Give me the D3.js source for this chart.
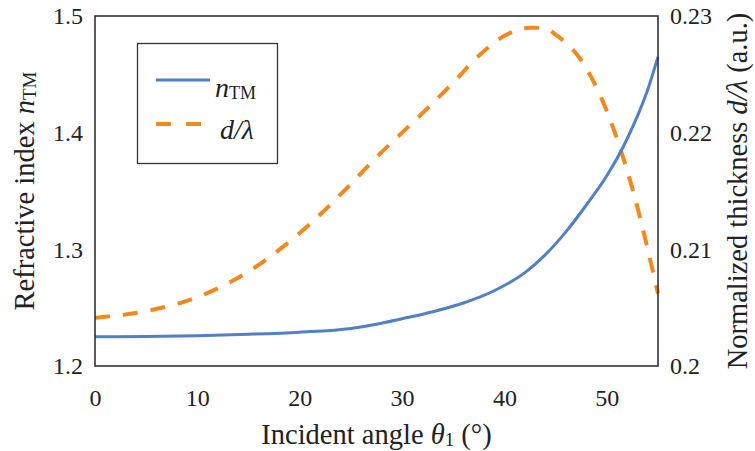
<!DOCTYPE html>
<html>
<head>
<meta charset="utf-8">
<script src="https://cdn.jsdelivr.net/npm/d3@7"></script>
<style>
  html, body { margin: 0; padding: 0; background: #fff; }
  svg { display: block; }
  svg text { font-family: "Liberation Serif", "Times New Roman", Times, "DejaVu Serif", serif !important; fill: #222; }
</style>
</head>
<body>
<svg id="chart" width="755" height="451"></svg>
<script>
// Incident angle (degrees) for the refractive index curve
const anglesN = [0, 5, 10, 15, 20, 25, 27.5, 30, 33, 36, 39, 42, 44, 46, 48, 50, 52, 54, 55];
// Refractive index n_TM (left axis)
const nTM = [1.2250, 1.2253, 1.2260, 1.2272, 1.2290, 1.2322, 1.2358, 1.2405, 1.2465, 1.2540, 1.2645, 1.2800, 1.2955, 1.3150, 1.3380, 1.3630, 1.3950, 1.4370, 1.4650];

// Incident angle (degrees) for the thickness curve
const anglesD = [0, 5, 10, 15, 20, 25, 27.5, 30, 32.5, 35, 37.5, 40, 42.5, 44, 45, 47.5, 50, 52.5, 55];
// Normalized thickness d/lambda (right axis)
const dLambda = [0.20414, 0.20470, 0.20590, 0.20810, 0.21140, 0.21560, 0.21790, 0.22000, 0.22210, 0.22430, 0.22660, 0.22830, 0.22900, 0.22895, 0.22840, 0.22620, 0.22185, 0.21520, 0.20620];

const xTicks = [0, 10, 20, 30, 40, 50];
const yLeftTicks = [1.2, 1.3, 1.4, 1.5];
const yRightTicks = [0.2, 0.21, 0.22, 0.23];

const FONT = "'Liberation Serif', 'Times New Roman', Times, serif";
const svg = d3.select("#chart");
const plot = { left: 95, right: 658, top: 16, bottom: 366 };

const x = d3.scaleLinear().domain([0, 55]).range([plot.left, plot.right]);
const yL = d3.scaleLinear().domain([1.2, 1.5]).range([plot.bottom, plot.top]);
const yR = d3.scaleLinear().domain([0.2, 0.23]).range([plot.bottom, plot.top]);

const blue = "#5280c2";
const orange = "#f2891f";
const tickFont = 24;
const titleFont = 28.5;

// Curves
const ptsN = anglesN.map((a, i) => ({ a, v: nTM[i] }));
const ptsD = anglesD.map((a, i) => ({ a, v: dLambda[i] }));
const smooth = d3.curveMonotoneX;

svg.append("path")
  .datum(ptsD)
  .attr("fill", "none")
  .attr("stroke", orange)
  .attr("stroke-width", 4)
  .attr("stroke-dasharray", "15,13")
  .attr("d", d3.line().x(p => x(p.a)).y(p => yR(p.v)).curve(smooth));

svg.append("path")
  .datum(ptsN)
  .attr("fill", "none")
  .attr("stroke", blue)
  .attr("stroke-width", 3)
  .attr("d", d3.line().x(p => x(p.a)).y(p => yL(p.v)).curve(smooth));

// Plot frame
svg.append("rect")
  .attr("x", plot.left).attr("y", plot.top)
  .attr("width", plot.right - plot.left).attr("height", plot.bottom - plot.top)
  .attr("fill", "none").attr("stroke", "#333").attr("stroke-width", 1.6);

// Axes: labels only, no tick marks
const xAxis = svg.append("g")
  .attr("transform", `translate(0,${plot.bottom})`)
  .call(d3.axisBottom(x).tickValues(xTicks).tickSize(0).tickPadding(23).tickFormat(d3.format("d")));
const lAxis = svg.append("g")
  .attr("transform", `translate(${plot.left},0)`)
  .call(d3.axisLeft(yL).tickValues(yLeftTicks).tickSize(0).tickPadding(12).tickFormat(d3.format(".1f")));
const rAxis = svg.append("g")
  .attr("transform", `translate(${plot.right},0)`)
  .call(d3.axisRight(yR).tickValues(yRightTicks).tickSize(0).tickPadding(12).tickFormat(d => d === 0.2 ? "0.2" : d3.format(".2f")(d)));

[xAxis, lAxis, rAxis].forEach(g => {
  g.attr("font-family", FONT);
  g.select(".domain").remove();
  g.selectAll("text")
    .style("font-family", FONT)
    .attr("font-size", tickFont)
    .attr("fill", "#222");
});

// Axis titles
const xt = svg.append("text")
  .style("font-family", FONT)
  .attr("x", (plot.left + plot.right) / 2)
  .attr("y", 444)
  .attr("text-anchor", "middle")
  .attr("font-size", titleFont);
xt.append("tspan").text("Incident angle ");
xt.append("tspan").attr("font-style", "italic").text("θ");
xt.append("tspan").attr("font-size", 19).attr("dy", 2).text("1");
xt.append("tspan").attr("dy", -2).text(" (°)");

const lt = svg.append("text")
  .style("font-family", FONT)
  .attr("transform", `translate(34,${(plot.top + plot.bottom) / 2}) rotate(-90)`)
  .attr("text-anchor", "middle")
  .attr("font-size", titleFont);
lt.append("tspan").text("Refractive index ");
lt.append("tspan").attr("font-style", "italic").text("n");
lt.append("tspan").attr("font-size", 19).attr("dy", 2).text("TM");

const rt = svg.append("text")
  .style("font-family", FONT)
  .attr("transform", `translate(747,${(plot.top + plot.bottom) / 2}) rotate(-90)`)
  .attr("text-anchor", "middle")
  .attr("font-size", titleFont);
rt.append("tspan").text("Normalized thickness ");
rt.append("tspan").attr("font-style", "italic").text("d/λ");
rt.append("tspan").text(" (a.u.)");

// Legend
const legend = svg.append("g");
legend.append("rect")
  .attr("x", 137.5).attr("y", 43.5).attr("width", 140).attr("height", 120)
  .attr("fill", "#fff").attr("stroke", "#333").attr("stroke-width", 1.3);
legend.append("line")
  .attr("x1", 156).attr("x2", 210).attr("y1", 80).attr("y2", 80)
  .attr("stroke", blue).attr("stroke-width", 3);
legend.append("line")
  .attr("x1", 156).attr("x2", 202).attr("y1", 124).attr("y2", 124)
  .attr("stroke", orange).attr("stroke-width", 4).attr("stroke-dasharray", "15,15");
const l1 = legend.append("text").style("font-family", FONT)
  .attr("x", 215).attr("y", 97).attr("font-size", 28);
l1.append("tspan").attr("font-style", "italic").text("n");
l1.append("tspan").attr("font-size", 18).attr("dy", 2).text("TM");
legend.append("text").style("font-family", FONT)
  .attr("x", 220).attr("y", 139).attr("font-size", 28)
  .attr("font-style", "italic").text("d/λ");
</script>
</body>
</html>
